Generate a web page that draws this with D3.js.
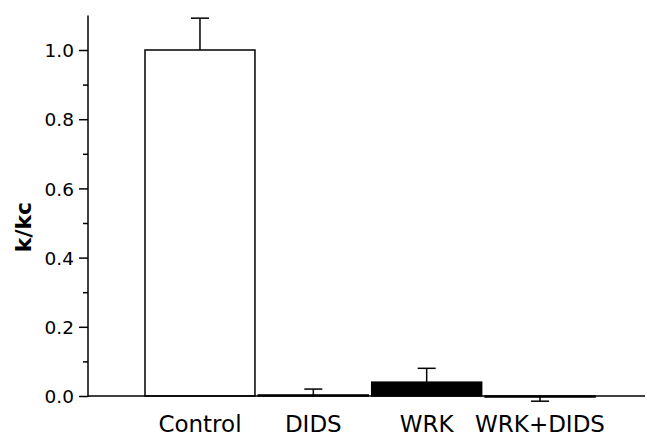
<!DOCTYPE html>
<html>
<head>
<meta charset="utf-8">
<script src="https://cdn.jsdelivr.net/npm/d3@7"></script>
<style>
  body { margin: 0; background: #fff; }
  text { font-family: "DejaVu Sans", sans-serif; fill: #000; }
</style>
</head>
<body>
<div id="c1"></div>
<script>
// Data
var groups = ["Control", "DIDS", "WRK", "WRK+DIDS"];
var means = [1.0, 0.003, 0.04, -0.003];
var errors = [0.092, 0.017, 0.04, 0.012];
var fills = ["#ffffff", "#ffffff", "#000000", "#ffffff"];
var majorTicks = [0, 0.2, 0.4, 0.6, 0.8, 1.0];
var minorTicks = [0.1, 0.3, 0.5, 0.7, 0.9];

var w = 647, h = 437;
var x0 = 88, yBase = 396;

var svg = d3.select("#c1").append("svg")
    .attr("width", w)
    .attr("height", h);

var x = d3.scaleBand()
    .domain(groups)
    .range([143.3, 596.7])
    .paddingInner(0.03)
    .paddingOuter(0.015);

var y = d3.scaleLinear()
    .domain([0, 1.1])
    .range([yBase, 15.4]);

// bars
svg.selectAll("rect.bar")
    .data(groups)
    .enter()
    .append("rect")
    .attr("class", "bar")
    .attr("x", function (d) { return x(d); })
    .attr("width", x.bandwidth())
    .attr("y", function (d, i) { return Math.min(y(means[i]), y(0)); })
    .attr("height", function (d, i) { return Math.abs(y(means[i]) - y(0)); })
    .attr("fill", function (d, i) { return fills[i]; })
    .attr("stroke", "#000")
    .attr("stroke-width", 1.5);

// error bars (one-sided, away from zero)
var eb = svg.selectAll("g.err")
    .data(groups)
    .enter()
    .append("g")
    .attr("class", "err");

function tipVal(i) {
    return means[i] >= 0 ? means[i] + errors[i] : means[i] - errors[i];
}

eb.append("line")
    .attr("x1", function (d) { return x(d) + x.bandwidth() / 2; })
    .attr("x2", function (d) { return x(d) + x.bandwidth() / 2; })
    .attr("y1", function (d, i) { return y(means[i]); })
    .attr("y2", function (d, i) { return y(tipVal(i)); })
    .attr("stroke", "#000")
    .attr("stroke-width", 1.5);

eb.append("line")
    .attr("x1", function (d) { return x(d) + x.bandwidth() / 2 - 9; })
    .attr("x2", function (d) { return x(d) + x.bandwidth() / 2 + 9; })
    .attr("y1", function (d, i) { return y(tipVal(i)); })
    .attr("y2", function (d, i) { return y(tipVal(i)); })
    .attr("stroke", "#000")
    .attr("stroke-width", 1.5);

// y axis
var yAxis = svg.append("g")
    .attr("transform", "translate(" + x0 + ",0)")
    .call(d3.axisLeft(y).tickValues(majorTicks).tickFormat(d3.format(".1f")).tickSize(9).tickPadding(5));

svg.append("g")
    .attr("transform", "translate(" + x0 + ",0)")
    .call(d3.axisLeft(y).tickValues(minorTicks).tickFormat("").tickSize(5))
    .select(".domain").remove();

yAxis.select(".domain")
    .attr("d", "M0," + y.range()[1] + "V" + (yBase + 1));

svg.selectAll(".tick line, .domain")
    .attr("stroke", "#000")
    .attr("stroke-width", 1.5);

yAxis.selectAll(".tick text")
    .style("font-size", "18.5px")
    .attr("dy", "0.36em");

// x axis
svg.append("line")
    .attr("x1", x0)
    .attr("x2", 645)
    .attr("y1", y(0))
    .attr("y2", y(0))
    .attr("stroke", "#000")
    .attr("stroke-width", 1.5);

svg.selectAll("text.xlab")
    .data(groups)
    .enter()
    .append("text")
    .attr("class", "xlab")
    .attr("x", function (d) { return x(d) + x.bandwidth() / 2; })
    .attr("y", 432)
    .attr("text-anchor", "middle")
    .style("font-size", "23px")
    .text(function (d) { return d; });

// y label
svg.append("text")
    .attr("transform", "translate(31,227) rotate(-90)")
    .attr("text-anchor", "middle")
    .style("font-size", "22px")
    .style("font-weight", "bold")
    .text("k/kc");
</script>
</body>
</html>
